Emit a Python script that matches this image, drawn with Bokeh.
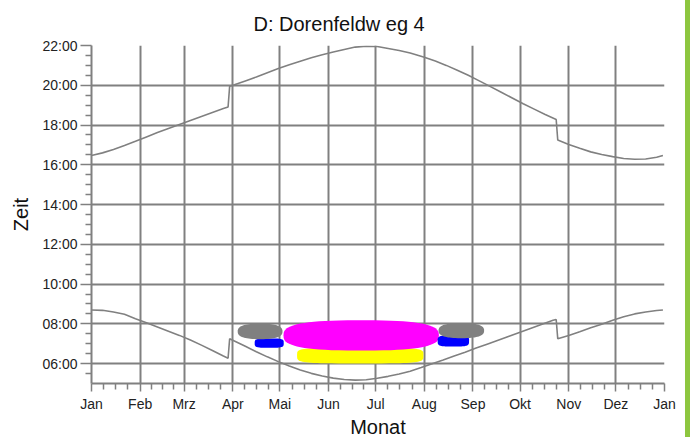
import math
from bokeh.plotting import figure
from bokeh.models import FixedTicker, Range1d, Title, Spacer
from bokeh.layouts import row
from bokeh.embed import file_html
from bokeh.resources import INLINE

# ---- data -----------------------------------------------------------
month_starts = [0, 31, 59, 90, 120, 151, 181, 212, 243, 273, 304, 334, 365]
month_labels = ["Jan", "Feb", "Mrz", "Apr", "Mai", "Jun", "Jul", "Aug",
                "Sep", "Okt", "Nov", "Dez", "Jan"]
hour_ticks = [6, 8, 10, 12, 14, 16, 18, 20, 22]
hour_labels = ["06:00", "08:00", "10:00", "12:00", "14:00", "16:00",
               "18:00", "20:00", "22:00"]

# sunset (upper curve), day of year -> hour
sunset_days = [0, 7, 14, 21, 28, 35, 42, 49, 56, 63, 70, 77, 84, 87, 88, 91,
               98, 105, 112, 119, 126, 133, 140, 147, 154, 161, 168, 175,
               182, 189, 196, 203, 212, 219, 226, 233, 240, 247, 252, 261,
               268, 275, 282, 289, 296, 297, 304, 311, 318, 325, 332, 339,
               346, 353, 360, 364]
sunset_hours = [16.47, 16.60, 16.77, 16.97, 17.18, 17.40, 17.62, 17.83,
                18.03, 18.23, 18.43, 18.63, 18.83, 18.91, 19.95, 20.02,
                20.22, 20.42, 20.63, 20.84, 21.03, 21.21, 21.38, 21.53,
                21.67, 21.80, 21.92, 21.96, 21.95, 21.85, 21.75, 21.62,
                21.41, 21.22, 21.00, 20.76, 20.50, 20.22, 20.02, 19.65,
                19.36, 19.07, 18.80, 18.53, 18.28, 17.25, 17.02, 16.83,
                16.65, 16.52, 16.41, 16.32, 16.28, 16.29, 16.38, 16.47]

# sunrise (lower curve)
sunrise_days = [0, 7, 14, 21, 28, 35, 42, 49, 56, 63, 70, 77, 84, 87, 88, 91,
                98, 105, 112, 119, 126, 133, 140, 147, 154, 161, 168, 175,
                182, 189, 196, 203, 210, 217, 224, 231, 238, 245, 252, 259,
                266, 273, 280, 287, 294, 296, 297, 304, 311, 318, 325, 332,
                339, 346, 353, 360, 364]
sunrise_hours = [8.70, 8.68, 8.60, 8.48, 8.26, 8.05, 7.84, 7.63, 7.42, 7.19,
                 6.93, 6.66, 6.38, 6.27, 7.25, 7.14, 6.87, 6.60, 6.34, 6.10,
                 5.88, 5.68, 5.51, 5.38, 5.27, 5.20, 5.17, 5.19, 5.26, 5.36,
                 5.48, 5.62, 5.80, 5.99, 6.18, 6.38, 6.57, 6.78, 6.98, 7.18,
                 7.38, 7.58, 7.78, 7.98, 8.18, 8.22, 7.25, 7.41, 7.60, 7.80,
                 7.98, 8.18, 8.36, 8.50, 8.60, 8.67, 8.70]

# shadow periods (centre day, centre hour, extent in days, extent in hours)
blob_day = [113.2, 107.4, 171.2, 171.8, 230.5, 235.6]
blob_hour = [7.03, 7.62, 6.41, 7.42, 7.14, 7.66]
blob_days_wide = [18.5, 28.5, 80.5, 99.0, 20.0, 29.0]
blob_hours_tall = [0.47, 0.78, 0.80, 1.52, 0.56, 0.76]
blob_color = ["#0000ff", "#808080", "#ffff00", "#ff00ff", "#0000ff", "#808080"]
blob_roundness = [4.0, 2.6, 4.5, 2.8, 4.0, 2.6]   # outline shape exponent

# ---- figure ---------------------------------------------------------
GRAY = "#808080"
FONT = "Liberation Sans"

p = figure(frame_width=573, frame_height=338,
           min_border_left=91, min_border_right=21,
           min_border_top=45, min_border_bottom=54,
           x_range=Range1d(0, 365), y_range=Range1d(5, 22),
           output_backend="svg", toolbar_location=None,
           background_fill_color="white", border_fill_color="white",
           title=Title(text="D: Dorenfeldw eg 4", align="left", offset=162,
                       standoff=21, text_font=FONT, text_font_size="20px",
                       text_font_style="normal", text_color="#111111"))
p.outline_line_color = None

# grid
p.xgrid.ticker = FixedTicker(ticks=month_starts[1:-1])
p.ygrid.ticker = FixedTicker(ticks=hour_ticks)
for g in (p.xgrid, p.ygrid):
    g.grid_line_color = GRAY
    g.grid_line_width = 2

# x axis
minor_x = []
for a, b in zip(month_starts[:-1], month_starts[1:]):
    for k in (1, 2, 3):
        minor_x.append(a + k * (b - a) / 4)
p.xaxis.ticker = FixedTicker(ticks=month_starts, minor_ticks=minor_x)
p.xaxis.major_label_overrides = {m: l for m, l in zip(month_starts, month_labels)}
p.xaxis.major_tick_out = 8
p.xaxis.minor_tick_out = 6
p.xaxis.major_label_standoff = 4
p.xaxis.axis_label = "Monat"
p.xaxis.axis_label_standoff = 1

# y axis
minor_y = [h / 2 for h in range(11, 44) if h % 4 != 0]
p.yaxis.ticker = FixedTicker(ticks=hour_ticks, minor_ticks=minor_y)
p.yaxis.major_label_overrides = {t: l for t, l in zip(hour_ticks, hour_labels)}
p.yaxis.major_tick_out = 11
p.yaxis.minor_tick_out = 6
p.yaxis.major_label_standoff = 3
p.yaxis.axis_label = "Zeit"
p.yaxis.axis_label_standoff = 7

for ax in (p.xaxis, p.yaxis):
    ax.axis_line_color = GRAY
    ax.axis_line_width = 2
    ax.major_tick_line_color = GRAY
    ax.minor_tick_line_color = GRAY
    ax.major_tick_line_width = 1.5
    ax.minor_tick_line_width = 1.5
    ax.major_tick_in = 0
    ax.minor_tick_in = 0
    ax.major_label_text_font = FONT
    ax.major_label_text_font_size = "14px"
    ax.major_label_text_color = "#222222"
    ax.axis_label_text_font = FONT
    ax.axis_label_text_font_size = "20px"
    ax.axis_label_text_font_style = "normal"
    ax.axis_label_text_color = "#111111"

# shadow areas: rounded outlines around each period's centre and extent
xs, ys = [], []
for cx, cy, w, h, n in zip(blob_day, blob_hour, blob_days_wide,
                           blob_hours_tall, blob_roundness):
    px, py = [], []
    for i in range(72):
        t = 2 * math.pi * i / 72
        c, s = math.cos(t), math.sin(t)
        px.append(cx + w / 2 * math.copysign(abs(c) ** (2 / n), c))
        py.append(cy + h / 2 * math.copysign(abs(s) ** (2 / n), s))
    xs.append(px)
    ys.append(py)
p.patches(xs=xs, ys=ys, fill_color=blob_color, line_color=None)

# sunrise / sunset curves
p.line(sunset_days, sunset_hours, line_color=GRAY, line_width=1.6)
p.line(sunrise_days, sunrise_hours, line_color=GRAY, line_width=1.6)

# green edge stripe at the right of the page
stripe = Spacer(width=5, height=437, styles={"background-color": "#8dc63f"})
page = row(p, stripe)

open("out.html", "w").write(file_html(page, INLINE))
